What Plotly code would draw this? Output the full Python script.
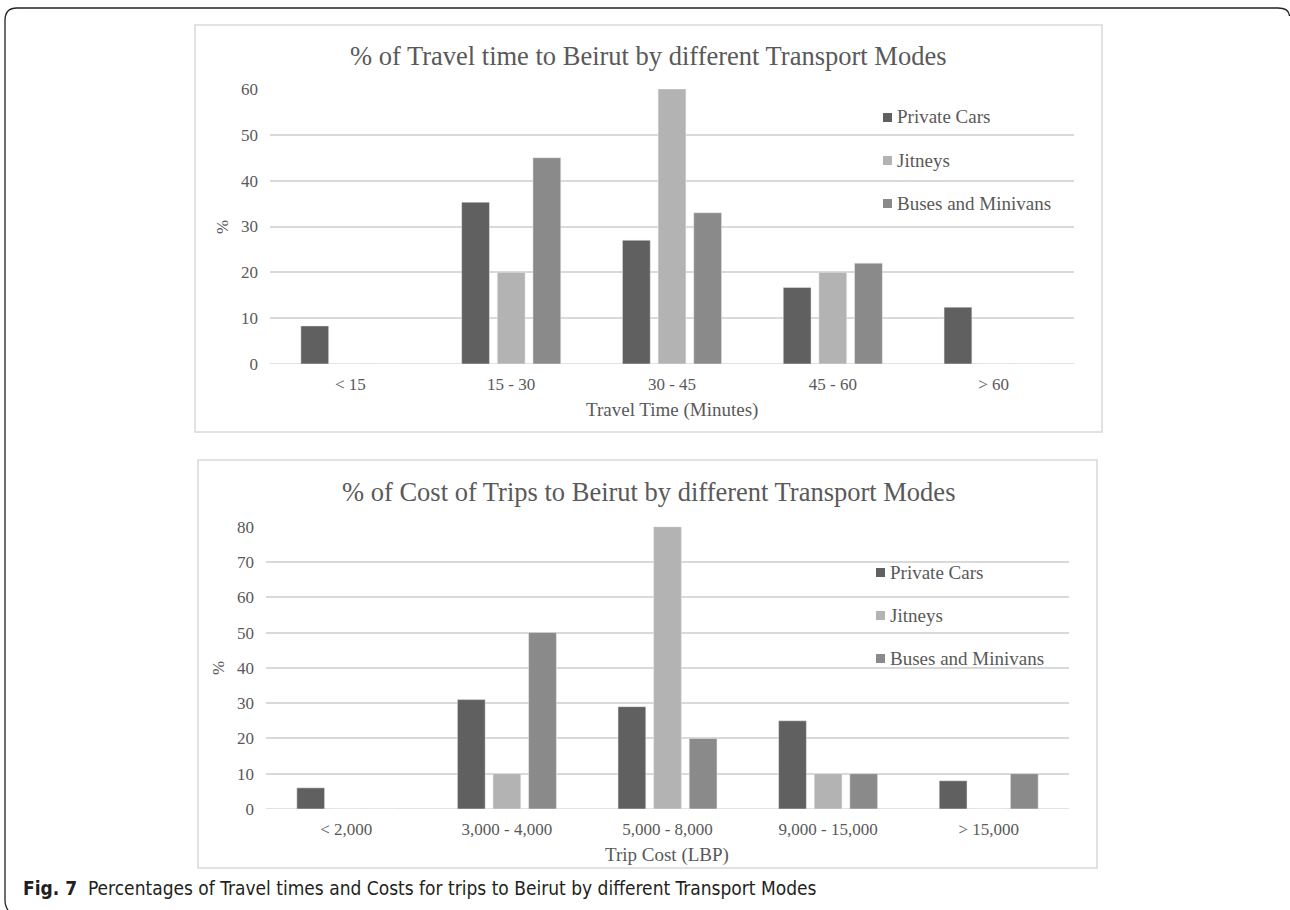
import plotly.graph_objects as go

W, H = 1290, 910

# --- data -------------------------------------------------------------
modes = ["Private Cars", "Jitneys", "Buses and Minivans"]
mode_colors = ["#606060", "#b3b3b3", "#8a8a8a"]

time_bins = ["< 15", "15 - 30", "30 - 45", "45 - 60", "> 60"]
time_private = [8.3, 35.3, 27.0, 16.7, 12.4]
time_jitneys = [0, 20, 60, 20, 0]
time_buses = [0, 45, 33, 22, 0]

cost_bins = ["< 2,000", "3,000 - 4,000", "5,000 - 8,000", "9,000 - 15,000", "> 15,000"]
cost_private = [6, 31, 29, 25, 8]
cost_jitneys = [0, 10, 80, 10, 0]
cost_buses = [0, 50, 20, 10, 10]

time_ticks = [0, 10, 20, 30, 40, 50, 60]
cost_ticks = [0, 10, 20, 30, 40, 50, 60, 70, 80]


def px(x):
    return x / W


def py(y):
    return 1 - y / H


SERIF = "Liberation Serif, Times New Roman, serif"
TXT = "#595959"
GRID = "#d9d9d9"

fig = go.Figure()

time_series = [time_private, time_jitneys, time_buses]
cost_series = [cost_private, cost_jitneys, cost_buses]

for name, color, vals in zip(modes, mode_colors, time_series):
    fig.add_trace(go.Bar(x=time_bins, y=vals, name=name, marker_color=color,
                         xaxis="x", yaxis="y", showlegend=False))

for name, color, vals in zip(modes, mode_colors, cost_series):
    fig.add_trace(go.Bar(x=cost_bins, y=vals, name=name, marker_color=color,
                         xaxis="x2", yaxis="y2", showlegend=False))

axis_common = dict(
    showline=False, zeroline=False, ticks="",
    tickfont=dict(family=SERIF, size=17, color=TXT),
)

fig.update_layout(
    width=W, height=H, autosize=False,
    margin=dict(l=0, r=0, t=0, b=0, pad=0),
    paper_bgcolor="white", plot_bgcolor="white",
    barmode="group", bargap=0.335, bargroupgap=0.22,
    xaxis=dict(domain=[px(270), px(1074)], anchor="y", automargin=False,
               ticklabelstandoff=8, showgrid=False, **axis_common),
    yaxis=dict(domain=[py(364), py(89)], anchor="x", range=[0, 60], automargin=False,
               tickvals=time_ticks, showgrid=True, gridcolor=GRID, gridwidth=1.5,
               ticklabelstandoff=11, **axis_common),
    xaxis2=dict(domain=[px(266), px(1069)], anchor="y2", automargin=False,
                ticklabelstandoff=8, showgrid=False, **axis_common),
    yaxis2=dict(domain=[py(809), py(526.7)], anchor="x2", range=[0, 80], automargin=False,
                tickvals=cost_ticks, showgrid=True, gridcolor=GRID, gridwidth=1.5,
                ticklabelstandoff=11, **axis_common),
)

# baseline gridline at zero for both panels
fig.add_shape(type="line", xref="x domain", yref="y", x0=0, x1=1, y0=0, y1=0,
              line=dict(color=GRID, width=1.5), layer="below")
fig.add_shape(type="line", xref="x2 domain", yref="y2", x0=0, x1=1, y0=0, y1=0,
              line=dict(color=GRID, width=1.5), layer="below")

# chart frames
for x0, y0, x1, y1 in [(195, 25, 1102, 432), (198, 460, 1097, 868)]:
    fig.add_shape(type="rect", xref="paper", yref="paper",
                  x0=px(x0), y0=py(y0), x1=px(x1), y1=py(y1),
                  line=dict(color=GRID, width=1.5), layer="below")

# outer rounded figure border
border = (f"M {px(5)},{py(900)} L {px(5)},{py(20)} "
          f"Q {px(5)},{py(8)} {px(17)},{py(8)} "
          f"L {px(1278)},{py(8)} Q {px(1289)},{py(8)} {px(1289.5)},{py(16)}")
fig.add_shape(type="path", xref="paper", yref="paper", path=border,
              line=dict(color="#222222", width=1.3))
fig.add_shape(type="path", xref="paper", yref="paper",
              path=f"M {px(5)},{py(900)} Q {px(5)},{py(906)} {px(8)},{py(910)}",
              line=dict(color="#222222", width=1.3))

# legends: colour key squares with series names
legend_spots = [(883, [117, 160, 203]), (876, [572, 615, 658])]
for lx, ys in legend_spots:
    for name, color, ly in zip(modes, mode_colors, ys):
        fig.add_shape(type="rect", xref="paper", yref="paper",
                      x0=px(lx), x1=px(lx + 9), y0=py(ly - 4), y1=py(ly + 5),
                      fillcolor=color, line=dict(width=0))
        fig.add_annotation(text=name, x=px(lx + 12), y=py(ly), xanchor="left",
                           yanchor="middle", xref="paper", yref="paper",
                           showarrow=False,
                           font=dict(family=SERIF, size=19, color=TXT))

annotations = [
    dict(text="% of Travel time to Beirut by different Transport Modes",
         x=px(648), y=py(56), font=dict(family=SERIF, size=26.5, color=TXT)),
    dict(text="% of Cost of Trips to Beirut by different Transport Modes",
         x=px(648), y=py(492), font=dict(family=SERIF, size=26.5, color=TXT)),
    dict(text="Travel Time (Minutes)", x=px(672), y=py(410),
         font=dict(family=SERIF, size=19, color=TXT)),
    dict(text="Trip Cost (LBP)", x=px(667), y=py(855),
         font=dict(family=SERIF, size=19, color=TXT)),
    dict(text="%", x=px(222), y=py(227), textangle=-90,
         font=dict(family=SERIF, size=17, color=TXT)),
    dict(text="%", x=px(218), y=py(668), textangle=-90,
         font=dict(family=SERIF, size=17, color=TXT)),
    dict(text="<b>Fig. 7</b>  Percentages of Travel times and Costs for trips to Beirut by different Transport Modes",
         x=px(21), y=py(888), xanchor="left",
         font=dict(family="Liberation Sans Narrow, DejaVu Sans Condensed, Noto Sans, sans-serif",
                   size=19, color="#231f20")),
]
for a in annotations:
    a.setdefault("xanchor", "center")
    fig.add_annotation(xref="paper", yref="paper", yanchor="middle",
                       showarrow=False, **a)

fig.write_html("out.html",
               post_script="document.body.style.margin='0';")
